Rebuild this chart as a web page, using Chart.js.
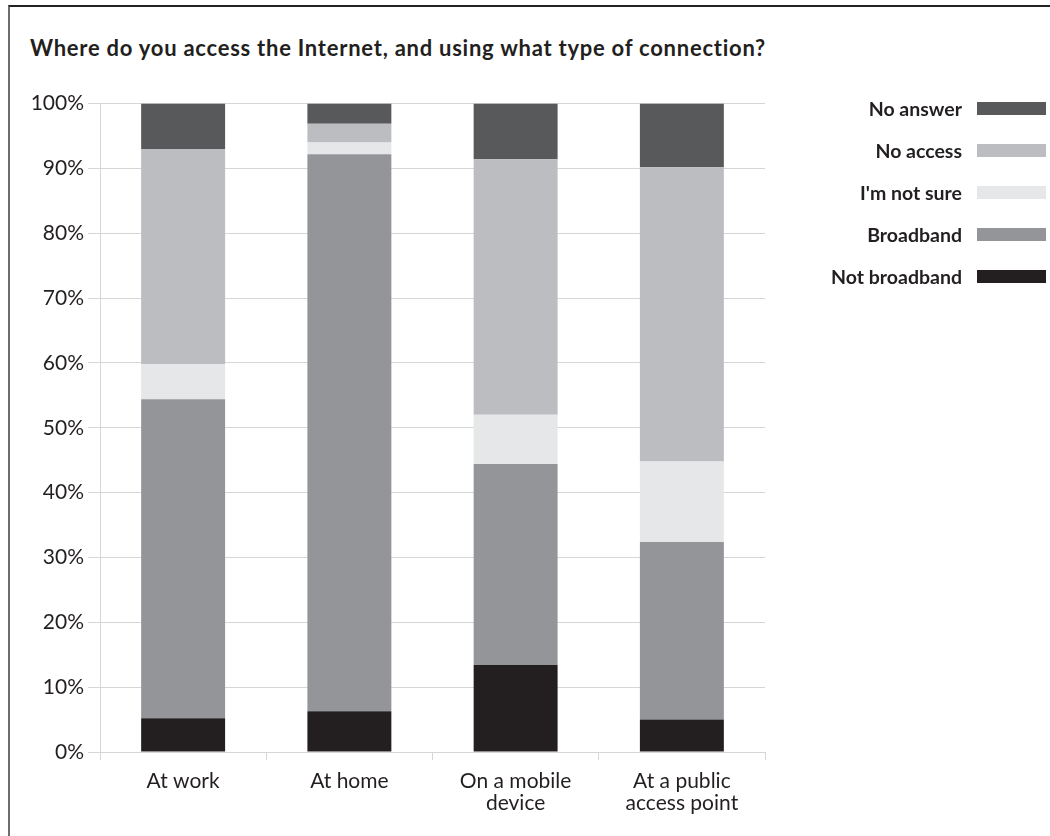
<!DOCTYPE html>
<html>
<head>
<meta charset="utf-8">
<script src="https://cdn.jsdelivr.net/npm/chart.js@4"></script>
<style>
  html, body { margin: 0; padding: 0; background: #fff; }
  body { width: 1050px; height: 836px; position: relative; overflow: hidden; font-family: Lato, sans-serif; color: #231f20; }
  .frame { position: absolute; left: 8px; top: 5px; width: 1100px; height: 900px;
           border-top: 2px solid #222; border-left: 2px solid #6d6d6d; }
  .title { position: absolute; left: 30px; top: 34px; font-weight: bold; font-size: 22px; letter-spacing: 0.75px; white-space: nowrap; }
  .chart-box { position: absolute; left: 0; top: 87px; width: 790px; height: 749px; }
  .legend { position: absolute; left: 780px; top: 87px; width: 266px; margin: 0; padding: 0; list-style: none; }
  .legend li { height: 42px; display: flex; align-items: center; justify-content: flex-end; font-weight: bold; font-size: 19.5px; }
  .legend span.box { display: inline-block; width: 69px; height: 13px; margin-left: 15px; }
</style>
</head>
<body>
<div class="frame"></div>
<div class="title">Where do you access the Internet, and using what type of connection?</div>
<div class="chart-box"><canvas class="my-chart"></canvas></div>
<ul class="legend"></ul>
<script>
const categories = ["At work", "At home", ["On a mobile", "device"], ["At a public", "access point"]];
const seriesNames = ["Not broadband", "Broadband", "I'm not sure", "No access", "No answer"];
const seriesColors = ["#231f20", "#939598", "#e6e7e8", "#bcbdc0", "#58595b"];

// each value is the share of answers (percent) for the category
const notBroadband = [5.2, 6.3, 13.4, 5.0];
const broadband = [49.2, 85.9, 31.0, 27.4];
const notSure = [5.4, 1.8, 7.6, 12.4];
const noAccess = [33.2, 2.9, 39.4, 45.4];
const noAnswer = [7.0, 3.1, 8.6, 9.8];

const yTicks = [0, 10, 20, 30, 40, 50, 60, 70, 80, 90, 100];

const seriesValues = [notBroadband, broadband, notSure, noAccess, noAnswer];
const gridColor = "#d6d6d6";
const textColor = "#231f20";

const myChart = document.querySelector(".my-chart");

new Chart(myChart, {
  type: "bar",
  data: {
    labels: categories,
    datasets: seriesNames.map((name, i) => ({
      label: name,
      data: seriesValues[i],
      backgroundColor: seriesColors[i],
      borderWidth: 0,
      categoryPercentage: 1,
      barPercentage: 0.505,
    })),
  },
  options: {
    responsive: true,
    maintainAspectRatio: false,
    animation: false,
    layout: { padding: { top: 10, right: 25, left: 0, bottom: 0 } },
    plugins: {
      legend: { display: false },
      tooltip: { enabled: false },
    },
    scales: {
      x: {
        stacked: true,
        grid: { drawOnChartArea: false, color: gridColor, tickLength: 8 },
        border: { color: gridColor },
        ticks: { color: textColor, font: { family: "Lato", size: 21, lineHeight: 1.05 }, padding: 10, maxRotation: 0 },
        afterFit: (scale) => { scale.height = 84; },
      },
      y: {
        stacked: true,
        min: 0,
        max: 100,
        afterBuildTicks: (scale) => { scale.ticks = yTicks.map((v) => ({ value: v })); },
        grid: { color: gridColor, tickLength: 12 },
        border: { color: gridColor },
        ticks: { color: textColor, font: { family: "Lato", size: 21 }, padding: 4, callback: (v) => v + "%" },
        afterFit: (scale) => { scale.width = 100; },
      },
    },
  },
});

const ul = document.querySelector(".legend");
const populateUl = () => {
  seriesNames.slice().reverse().forEach((name, k) => {
    const i = seriesNames.length - 1 - k;
    let li = document.createElement("li");
    li.innerHTML = `${name}<span class='box' style='background:${seriesColors[i]}'></span>`;
    ul.appendChild(li);
  });
};

populateUl();
</script>
</body>
</html>
